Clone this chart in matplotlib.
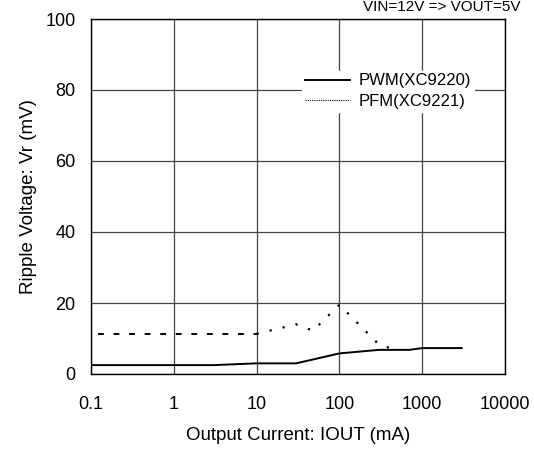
import numpy as np
import matplotlib
matplotlib.use("Agg")
import matplotlib.pyplot as plt

plt.rcParams['font.family'] = ['Liberation Sans', 'DejaVu Sans']

# PWM (XC9220)
pwm_x = [0.1, 3, 10, 30, 100, 300, 700, 1000, 3000]
pwm_y = [2.5, 2.5, 3.0, 3.0, 5.8, 6.8, 6.8, 7.3, 7.3]

# PFM (XC9221)
pfm_flat_x = [0.12, 10]
pfm_flat_y = [11.3, 11.3]
pfm_x = [10, 30, 48, 100, 300, 480]
pfm_y = [11.3, 14.0, 12.2, 19.5, 8.3, 6.8]

xticks = [0.1, 1, 10, 100, 1000, 10000]
xticklabels = ['0.1', '1', '10', '100', '1000', '10000']
yticks = [0, 20, 40, 60, 80, 100]


def main():
    fig = plt.figure(figsize=(5.34, 4.54), dpi=100)
    ax = fig.add_axes([91 / 534, 1 - 374 / 454, 414 / 534, 355 / 454])

    ax.plot(pwm_x, pwm_y, '-', color='black', lw=1.4, label='PWM(XC9220)')
    ax.plot(pfm_flat_x, pfm_flat_y, color='black', lw=1.4, linestyle=(0, (3, 5)))
    ax.plot(pfm_x, pfm_y, color='black', lw=1.6, linestyle=(0, (1, 5)))
    # legend handle only
    ax.plot([], [], color='black', lw=0.8, linestyle=(0, (1, 1)), label='PFM(XC9221)')

    ax.set_xscale('log')
    ax.set_xlim(0.1, 10000)
    ax.set_ylim(0, 100)
    ax.set_xticks(xticks)
    ax.set_xticklabels(xticklabels)
    ax.set_yticks(yticks)
    ax.minorticks_off()
    ax.tick_params(axis='x', labelsize=13, length=0, pad=16)
    ax.tick_params(axis='y', labelsize=13, length=0, pad=11)
    ax.grid(True, color='#444444', lw=0.9)
    for s in ax.spines.values():
        s.set_linewidth(1.0)

    ax.set_xlabel('Output Current: IOUT (mA)', fontsize=13.5, labelpad=10)
    ax.set_ylabel('Ripple Voltage: Vr (mV)', fontsize=13.5, labelpad=6)

    leg = ax.legend(loc='upper left', bbox_to_anchor=(0.49, 0.877), frameon=True,
                    fontsize=12, handlelength=2.7, handletextpad=0.55,
                    borderpad=0.15, labelspacing=0.35)
    leg.get_frame().set_edgecolor('white')
    leg.get_frame().set_alpha(1)

    fig.text(0.975, 1.0, 'VIN=12V => VOUT=5V', fontsize=11, ha='right', va='top')

    fig.savefig('out.png', dpi=100)


main()
